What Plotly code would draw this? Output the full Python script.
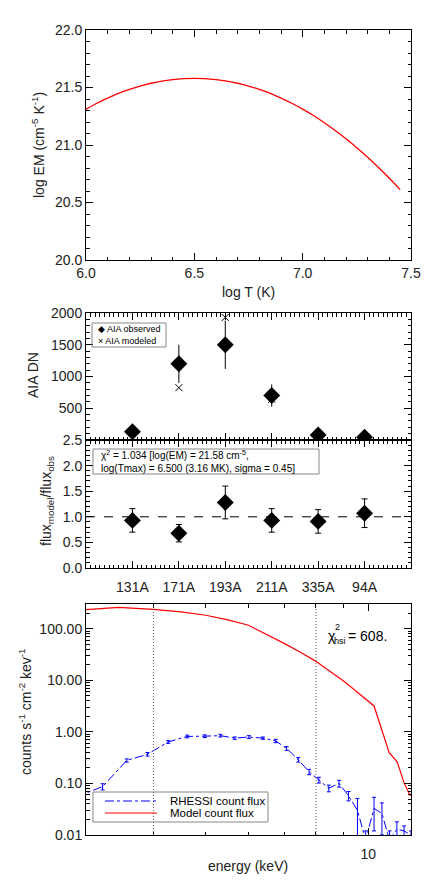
import plotly.graph_objects as go

# the page body keeps its default 8px margin, so the figure is drawn 8px in
OFF = 8
W, H = 437 - 2 * OFF, 882 - 2 * OFF
FONT = "Liberation Sans"

# DEM model: log T vs log EM
log_t = [6.00, 6.05, 6.10, 6.15, 6.20, 6.25, 6.30, 6.35, 6.40, 6.45,
         6.50, 6.55, 6.60, 6.65, 6.70, 6.75, 6.80, 6.85, 6.90, 6.95,
         7.00, 7.05, 7.10, 7.15, 7.20, 7.25, 7.30, 7.35, 7.40, 7.45]
log_em = [21.310, 21.363, 21.408, 21.449, 21.483, 21.513, 21.537, 21.556, 21.569, 21.577,
          21.580, 21.577, 21.569, 21.556, 21.537, 21.513, 21.483, 21.449, 21.408, 21.363,
          21.312, 21.256, 21.194, 21.127, 21.055, 20.977, 20.894, 20.805, 20.711, 20.612]

# AIA channels
channels = ["131A", "171A", "193A", "211A", "335A", "94A"]
chan_pos = [1, 2, 3, 4, 5, 6]
aia_obs = [130, 1200, 1500, 700, 80, 45]
aia_obs_err = [33, 300, 380, 175, 20, 12]
aia_mod = [121, 824, 1930, 640, 73, 48]
ratio = [0.93, 0.68, 1.28, 0.93, 0.91, 1.07]
ratio_err = [0.23, 0.17, 0.32, 0.23, 0.23, 0.28]

# RHESSI count spectrum
energy = [2.88, 3.22, 3.57, 3.90, 4.26, 4.62, 4.98, 5.32, 5.66, 6.01, 6.38, 6.74, 7.06,
          7.42, 7.77, 8.10, 8.45, 8.83, 9.19, 9.55, 9.89, 10.25, 10.60, 10.95, 11.30, 11.65, 12.0]
rhessi = [0.055, 0.087, 0.28, 0.37, 0.64, 0.82, 0.83, 0.85, 0.76, 0.80, 0.76, 0.67, 0.48,
          0.29, 0.168, 0.117, 0.081, 0.100, 0.058, 0.030, 0.008, 0.033, 0.026, 0.008, 0.013, 0.012, 0.010]
rhessi_err = [0.008, 0.012, 0.02, 0.03, 0.04, 0.05, 0.05, 0.05, 0.04, 0.05, 0.04, 0.05, 0.04,
              0.03, 0.02, 0.015, 0.012, 0.015, 0.012, 0.021, 0.004, 0.021, 0.016, 0.004, 0.005, 0.003, 0.002]
model_e = [3.0, 3.45, 4.0, 4.5, 5.0, 5.5, 6.0, 6.4, 7.0, 7.5, 8.0, 8.5, 9.0, 9.5, 9.89,
           10.25, 10.93, 11.32, 11.64, 11.97]
model_flux = [237, 262, 240, 215, 185, 150, 118, 85, 52, 35, 23.5, 15, 9.8, 6.2, 4.3,
              3.2, 0.40, 0.26, 0.105, 0.057]
fit_range = [4, 8]
chi2_hsi = "608."


# page pixels -> paper coords
def px(x):
    return (x - OFF) / W


def py(y):
    return 1 - (y - OFF) / H


def text(s, x, y, size=14, angle=0, xanchor="center", color="#222", **kw):
    fig.add_annotation(text=s, x=px(x), y=py(y), xref="paper", yref="paper", showarrow=False,
                       textangle=angle, xanchor=xanchor, yanchor="middle",
                       font=dict(family=FONT, size=size, color=color), **kw)


def box(x0, y0, x1, y1):
    fig.add_shape(type="rect", xref="paper", yref="paper", x0=px(x0), x1=px(x1), y0=py(y1), y1=py(y0),
                  line=dict(color="#888", width=1), fillcolor="rgba(0,0,0,0)")


fig = go.Figure()

# top panel
fig.add_trace(go.Scatter(x=log_t, y=log_em, mode="lines", line=dict(color="red", width=1.3, shape="spline"),
                         xaxis="x", yaxis="y"))

# AIA DN panel
fig.add_trace(go.Scatter(x=chan_pos, y=aia_mod, mode="markers", xaxis="x2", yaxis="y2",
                         marker=dict(symbol="x-thin", size=7, line=dict(color="black", width=1))))
fig.add_trace(go.Scatter(x=chan_pos, y=aia_obs, mode="markers", xaxis="x2", yaxis="y2",
                         error_y=dict(type="data", array=aia_obs_err, color="black", thickness=1, width=0),
                         marker=dict(symbol="diamond", size=13, color="black")))

# ratio panel
fig.add_trace(go.Scatter(x=chan_pos, y=ratio, mode="markers", xaxis="x3", yaxis="y3",
                         error_y=dict(type="data", array=ratio_err, color="black", thickness=1, width=3),
                         marker=dict(symbol="diamond", size=13, color="black")))

# RHESSI panel
fig.add_trace(go.Scatter(x=energy, y=rhessi, mode="lines", xaxis="x4", yaxis="y4",
                         line=dict(color="blue", width=1, dash="dashdot"),
                         error_y=dict(type="data", array=rhessi_err, color="blue", thickness=1, width=2)))
fig.add_trace(go.Scatter(x=model_e, y=model_flux, mode="lines", xaxis="x4", yaxis="y4",
                         line=dict(color="red", width=1.2)))

tickfont = dict(family=FONT, size=14, color="#222")
base = dict(showline=True, linecolor="black", linewidth=1, mirror="allticks", ticks="inside",
            ticklen=7, tickcolor="black", showgrid=False, zeroline=False, tickfont=tickfont,
            automargin=False)


def minor(**kw):
    d = dict(ticks="inside", ticklen=3.5, tickcolor="black", showgrid=False)
    d.update(kw)
    return d


xdom = [px(86), px(411)]
fig.update_layout(
    width=W, height=H, margin=dict(l=0, r=0, t=0, b=0, autoexpand=False),
    paper_bgcolor="white", plot_bgcolor="white", showlegend=False,
    font=dict(family=FONT, size=14, color="#222"),
    xaxis=dict(base, domain=xdom, anchor="y", range=[6.0, 7.5], tickmode="linear", tick0=6, dtick=0.5,
               tickformat=".1f", minor=minor(dtick=0.1, tick0=6)),
    yaxis=dict(base, domain=[py(260), py(30)], anchor="x", range=[20, 22], tickmode="linear", tick0=20,
               dtick=0.5, tickformat=".1f", minor=minor(dtick=0.1, tick0=20)),
    xaxis2=dict(base, domain=xdom, anchor="y2", range=[0, 7], tickmode="array", tickvals=chan_pos,
                showticklabels=False, minor=minor(tickmode="linear", dtick=0.1, tick0=0)),
    yaxis2=dict(base, domain=[py(440), py(313)], anchor="x2", range=[0, 2000], tickmode="array",
                tickvals=[500, 1000, 1500, 2000], minor=minor(tickmode="linear", dtick=100, tick0=0)),
    xaxis3=dict(base, domain=xdom, anchor="y3", range=[0, 7], tickmode="array", tickvals=chan_pos,
                ticktext=channels, ticklabelstandoff=6, minor=minor(tickmode="linear", dtick=0.1, tick0=0)),
    yaxis3=dict(base, domain=[py(568), py(440)], anchor="x3", range=[0, 2.5], tickmode="linear", tick0=0,
                dtick=0.5, tickformat=".1f", minor=minor(tickmode="linear", dtick=0.1, tick0=0)),
    xaxis4=dict(base, domain=xdom, anchor="y4", type="log", range=[0.4771, 1.0792], tickmode="array",
                tickvals=[10], ticktext=["10"], ticklabelstandoff=6,
                minor=minor(tickmode="array", tickvals=[4, 5, 6, 7, 8, 9])),
    yaxis4=dict(base, domain=[py(835), py(604)], anchor="x4", type="log", range=[-2, 2.485], tickmode="array",
                tickvals=[0.01, 0.1, 1, 10, 100], ticktext=["0.01", "0.10", "1.00", "10.00", "100.00"],
                minor=minor(tickmode="array",
                            tickvals=[m * d for d in [0.01, 0.1, 1, 10, 100] for m in range(2, 10)])),
)

# reference line and fit range
fig.add_shape(type="line", xref="x3 domain", x0=0, x1=1, yref="y3", y0=1, y1=1,
              line=dict(color="black", width=1, dash="dash"))
for e in fit_range:
    fig.add_shape(type="line", xref="x4", x0=e, x1=e, yref="y4 domain", y0=0, y1=1,
                  line=dict(color="#555", width=1, dash="1px,2px"))

# axis titles
text("log T (K)", 248, 292)
text("energy (keV)", 248, 866)
text("log EM (cm<sup>-5</sup> K<sup>-1</sup>)", 38, 145, angle=-90)
text("AIA DN", 33, 375, angle=-90)
text("flux<sub>model</sub>/flux<sub>obs</sub>", 47, 501, angle=-90)
text("counts s<sup>-1</sup> cm<sup>-2</sup> kev<sup>-1</sup>", 25, 712, angle=-90)

# AIA legend
box(92, 323, 166, 347)
text("◆ AIA observed<br>× AIA modeled", 96, 335, size=9, xanchor="left", color="black", align="left")

# fit parameters
box(93, 449, 319, 474)
text("χ<sup>2</sup> = 1.034 [log(EM) = 21.58 cm<sup>-5</sup>,<br>log(Tmax) = 6.500 (3.16 MK), sigma = 0.45]",
     99, 461.5, size=10, xanchor="left", color="black", align="left")

# RHESSI legend
box(93, 792, 268, 822)
fig.add_shape(type="line", xref="paper", yref="paper", x0=px(105), x1=px(157), y0=py(801), y1=py(801),
              line=dict(color="blue", width=1, dash="dashdot"))
fig.add_shape(type="line", xref="paper", yref="paper", x0=px(105), x1=px(157), y0=py(813), y1=py(813),
              line=dict(color="red", width=1.2))
text("RHESSI count flux", 168, 801, size=11.5, xanchor="left", color="black")
text("Model count flux", 168, 813, size=11.5, xanchor="left", color="black")

# chi-square for the RHESSI fit
text("χ", 326, 636, size=14, xanchor="left", color="black")
text("2", 333, 627, size=9, xanchor="left", color="black")
text("hsi", 332, 641, size=9, xanchor="left", color="black")
text("= " + chi2_hsi, 346, 636, size=14, xanchor="left", color="black")

fig.write_html("out.html")
